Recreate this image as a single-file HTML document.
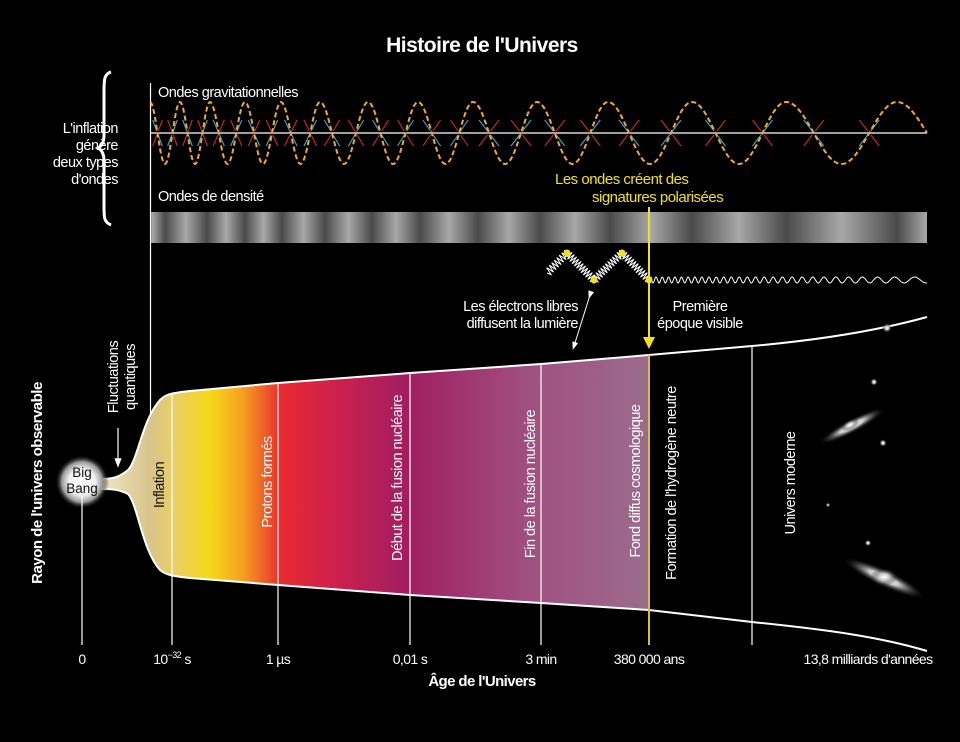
<!DOCTYPE html>
<html><head><meta charset="utf-8"><style>
html,body{margin:0;padding:0;background:#000;}
svg{display:block;font-family:"Liberation Sans",sans-serif;}
text{fill:#fff;}
</style></head><body>
<svg id="s" width="960" height="742" viewBox="0 0 960 742" xmlns="http://www.w3.org/2000/svg">
<defs>
<linearGradient id="fill" x1="100" x2="650" y1="0" y2="0" gradientUnits="userSpaceOnUse">
<stop offset="0" stop-color="#f0e6c8"/>
<stop offset="0.09" stop-color="#d8c48c"/>
<stop offset="0.14" stop-color="#ecd060"/>
<stop offset="0.2" stop-color="#f6d818"/>
<stop offset="0.26" stop-color="#f5a020"/>
<stop offset="0.33" stop-color="#e82a30"/>
<stop offset="0.42" stop-color="#d0204a"/>
<stop offset="0.56" stop-color="#a01e62"/>
<stop offset="0.78" stop-color="#a05080"/>
<stop offset="1" stop-color="#9a6c8c"/>
</linearGradient>
<radialGradient id="bb"><stop offset="0" stop-color="#fff"/><stop offset="0.5" stop-color="#f0f0f0"/><stop offset="0.75" stop-color="#999"/><stop offset="1" stop-color="#000" stop-opacity="0"/></radialGradient>
<radialGradient id="gal"><stop offset="0" stop-color="#fff"/><stop offset="0.35" stop-color="#ccc"/><stop offset="1" stop-color="#000" stop-opacity="0"/></radialGradient>
<linearGradient id="dens" x1="150" x2="927" gradientUnits="userSpaceOnUse"></linearGradient>
<marker id="ah" markerWidth="8" markerHeight="8" refX="4" refY="4" orient="auto"><path d="M0,1 L8,4 L0,7 Z" fill="#fff"/></marker>
<marker id="ay" markerWidth="6" markerHeight="6" refX="3" refY="3" orient="auto"><path d="M0,0 L6,3 L0,6 Z" fill="#f2e01a"/></marker>
</defs>
<text x="482" y="52" text-anchor="middle" font-size="21" font-weight="bold" letter-spacing="-0.5">Histoire de l'Univers</text>

<path d="M111,72 C104,74 104,80 104,92 L104,135 C104,142 102,146 98,148 C102,150 104,154 104,161 L104,206 C104,218 104,222 111,225" stroke="#fff" stroke-width="3" fill="none"/>
<g font-size="14.5" text-anchor="end" letter-spacing="-0.5">
<text x="118" y="133">L'inflation</text><text x="118" y="150">génère</text><text x="118" y="167">deux types</text><text x="118" y="184">d'ondes</text></g>

<line x1="150.5" y1="83" x2="150.5" y2="442" stroke="#fff" stroke-width="1.2"/>
<text x="158" y="97" font-size="14.5" letter-spacing="-0.5">Ondes gravitationnelles</text>
<text x="158" y="201" font-size="14.5" letter-spacing="-0.5">Ondes de densité</text>
<g id="arrows"></g>
<line x1="150" y1="133" x2="927" y2="133" stroke="#fff" stroke-width="1.2"/>
<path id="gw" stroke="#f2a830" stroke-width="2" stroke-dasharray="5,3" fill="none"/>
<rect id="dband" x="151" y="212" width="776" height="31"/>

<text x="555" y="184" font-size="15" style="fill:#f2e01a" letter-spacing="-0.5">Les ondes créent des</text>
<text x="592" y="202" font-size="15" style="fill:#f2e01a" letter-spacing="-0.5">signatures polarisées</text>

<path id="spring" stroke="#fff" stroke-width="1" fill="none"/>
<path id="lw" stroke="#fff" stroke-width="1" fill="none"/>
<g fill="#f2e01a"><circle cx="567" cy="253" r="3.5"/><circle cx="594" cy="280" r="3.5"/><circle cx="622" cy="253" r="3.5"/><circle cx="649" cy="280" r="3.5"/></g>

<g font-size="14.5" letter-spacing="-0.5">
<text x="578" y="311" text-anchor="end">Les électrons libres</text>
<text x="578" y="328" text-anchor="end">diffusent la lumière</text>
<text x="700" y="311" text-anchor="middle">Première</text>
<text x="700" y="328" text-anchor="middle">époque visible</text></g>
<line x1="590" y1="295" x2="574" y2="346" stroke="#fff" stroke-width="1" marker-end="url(#ah)" marker-start="url(#ah)"/>

<path d="M100,479 C112,479 118,478 128,470 C138,460 142,420 160,400 C166,394 172,393 190,391 L278,383 L410,373 L541,364 L649,355 L649,610 L541,603 L410,595 L278,585 L190,578 C172,576 166,575 160,570 C142,550 138,505 128,494 C118,489 112,489 100,489 Z" fill="url(#fill)"/>
<path d="M100,479 C112,479 118,478 128,470 C138,460 142,420 160,400 C166,394 172,393 190,391 L278,383 L410,373 L541,364 L649,355 L752,346 C820,340 880,330 927,317" stroke="#fff" stroke-width="2" fill="none"/>
<path d="M100,489 C112,489 118,489 128,494 C138,505 142,550 160,570 C166,575 172,576 190,578 L278,585 L410,595 L541,603 L649,610 L752,622 C830,630 880,637 927,651" stroke="#fff" stroke-width="2" fill="none"/>
<circle cx="82" cy="482" r="27" fill="url(#bb)"/>
<text x="82" y="477" text-anchor="middle" font-size="13.5" style="fill:#111">Big</text>
<text x="82" y="493" text-anchor="middle" font-size="13.5" style="fill:#111">Bang</text>

<g stroke="#fff" stroke-width="1.2">
<line x1="82" y1="496" x2="82" y2="645"/>
<line x1="172" y1="393" x2="172" y2="645"/>
<line x1="278" y1="383" x2="278" y2="645"/>
<line x1="410" y1="373" x2="410" y2="645"/>
<line x1="541" y1="364" x2="541" y2="645"/>
<line x1="752" y1="346" x2="752" y2="645"/>
</g>
<line x1="649" y1="355" x2="649" y2="645" stroke="#e0c020" stroke-width="2"/>
<line x1="649" y1="207" x2="649" y2="343" stroke="#f2e01a" stroke-width="2" marker-end="url(#ay)"/>
<line x1="118" y1="428" x2="118" y2="463" stroke="#fff" stroke-width="1.2" marker-end="url(#ah)"/>

<g font-size="14.5" letter-spacing="-0.5">
<text transform="translate(118,377) rotate(-90)" text-anchor="middle">Fluctuations</text>
<text transform="translate(135,377) rotate(-90)" text-anchor="middle">quantiques</text>
<text transform="translate(164,485) rotate(-90)" text-anchor="middle" style="fill:#111">Inflation</text>
<text transform="translate(272,482) rotate(-90)" text-anchor="middle">Protons formés</text>
<text transform="translate(402,478) rotate(-90)" text-anchor="middle">Début de la fusion nucléaire</text>
<text transform="translate(535,484) rotate(-90)" text-anchor="middle">Fin de la fusion nucléaire</text>
<text transform="translate(640,481) rotate(-90)" text-anchor="middle">Fond diffus cosmologique</text>
<text transform="translate(676,483) rotate(-90)" text-anchor="middle">Formation de l'hydrogène neutre</text>
<text transform="translate(795,483) rotate(-90)" text-anchor="middle">Univers moderne</text>
<text transform="translate(42,483) rotate(-90)" text-anchor="middle" font-weight="bold" font-size="15">Rayon de l'univers observable</text>
</g>

<g>
<ellipse cx="852" cy="426" rx="38" ry="7" transform="rotate(-28 852 426)" fill="url(#gal)"/>
<ellipse cx="850" cy="425" rx="10" ry="5" transform="rotate(-28 850 425)" fill="url(#gal)"/>
<ellipse cx="884" cy="578" rx="46" ry="9" transform="rotate(25 884 578)" fill="url(#gal)"/>
<ellipse cx="818" cy="577" rx="14" ry="9" transform="translate(66 0)" fill="url(#gal)"/>
<circle cx="887" cy="328" r="5" fill="url(#gal)"/><circle cx="874" cy="382" r="4" fill="url(#gal)"/>
<circle cx="883" cy="443" r="4" fill="url(#gal)"/><circle cx="868" cy="543" r="3.5" fill="url(#gal)"/>
<circle cx="828" cy="505" r="1.5" fill="#aaa"/>
</g>

<g font-size="14" letter-spacing="-0.6" text-anchor="middle">
<text x="82" y="664">0</text>
<text x="172" y="664">10<tspan font-size="9" dy="-6">−32</tspan><tspan dy="6"> s</tspan></text>
<text x="278" y="664">1 µs</text>
<text x="410" y="664">0,01 s</text>
<text x="541" y="664">3 min</text>
<text x="649" y="664">380 000 ans</text>
<text x="868" y="664">13,8 milliards d'années</text>
<text x="482" y="686" font-weight="bold" font-size="15">Âge de l'Univers</text>
</g>
</svg>
<script>
var NS="http://www.w3.org/2000/svg";
var peaks=[150,180,210,245,281,320,368,418,473,537,608,692,786,897,1017];
function phaseAt(x){for(var i=0;i<peaks.length-1;i++){if(x<=peaks[i+1]){return i+(x-peaks[i])/(peaks[i+1]-peaks[i]);}}return peaks.length;}
var d="";for(var x=150;x<=927;x+=1){var y=133-31*Math.cos(2*Math.PI*phaseAt(x));d+=(x==150?"M":"L")+x+","+y.toFixed(1);}
document.getElementById("gw").setAttribute("d",d);
var g=document.getElementById("arrows");
function ln(x1,y1,x2,y2,c){var p=document.createElementNS(NS,"line");p.setAttribute("x1",x1);p.setAttribute("y1",y1);p.setAttribute("x2",x2);p.setAttribute("y2",y2);p.setAttribute("stroke",c);p.setAttribute("stroke-width","1.1");g.appendChild(p);}
for(var i=0;i<peaks.length-1;i++){
 var a=peaks[i],b=peaks[i+1];if(a>900)break;
 [a+(b-a)*0.25,a+(b-a)*0.75].forEach(function(cx,k){
  if(cx>915)return;var w=Math.min(10,(b-a)*0.16),h=13;
  var c1=k?"#d02048":"#3aa8c8",c2=k?"#3aa8c8":"#d02048";
  ln(cx-w,133-h,cx-w*0.15,133-2,c1);ln(cx+w*0.15,133+2,cx+w,133+h,c1);
  ln(cx+w,133-h,cx+w*0.15,133-2,c2);ln(cx-w*0.15,133+2,cx-w,133+h,c2);
 });
}
var lg=document.getElementById("dens");var darks=[165,207,245,282,325,372,420,478,540,610,692,786,897];
var stops=[[150,"#7a7a7a"]];
for(var j=0;j<darks.length;j++){var c=darks[j];var prev=j?darks[j-1]:140;var mid=(prev+c)/2;stops.push([mid,"#a8a8a8"]);stops.push([c,"#4a4a4a"]);}
stops.push([927,"#a8a8a8"]);
stops.forEach(function(s){if(s[0]<150)return;var st=document.createElementNS(NS,"stop");st.setAttribute("offset",((s[0]-150)/777).toFixed(4));st.setAttribute("stop-color",s[1]);lg.appendChild(st);});
document.getElementById("dband").setAttribute("fill","url(#dens)");
function spring(x1,y1,x2,y2,n,amp){var dx=x2-x1,dy=y2-y1,L=Math.hypot(dx,dy),ux=dx/L,uy=dy/L,px=-uy,py=ux,s="M"+x1+","+y1;
 for(var k=1;k<=n*2;k++){var t=k/(n*2),sg=(k%2?1:-1)*amp;s+="L"+(x1+dx*t+px*sg).toFixed(1)+","+(y1+dy*t+py*sg).toFixed(1);}return s+"L"+x2+","+y2;}
document.getElementById("spring").setAttribute("d",spring(547,273,567,253,8,4)+spring(567,253,594,280,12,4)+spring(594,280,622,253,12,4)+spring(622,253,649,280,12,4));
var s2="";var ph=0;for(var x=649;x<=927;x+=0.5){var f=0.5-0.38*(x-649)/278;ph+=f*0.5*2*Math.PI/3;s2+=(x==649?"M":"L")+x+","+(280-3*Math.sin(ph)).toFixed(1);}
document.getElementById("lw").setAttribute("d",s2);
</script>
</body></html>
